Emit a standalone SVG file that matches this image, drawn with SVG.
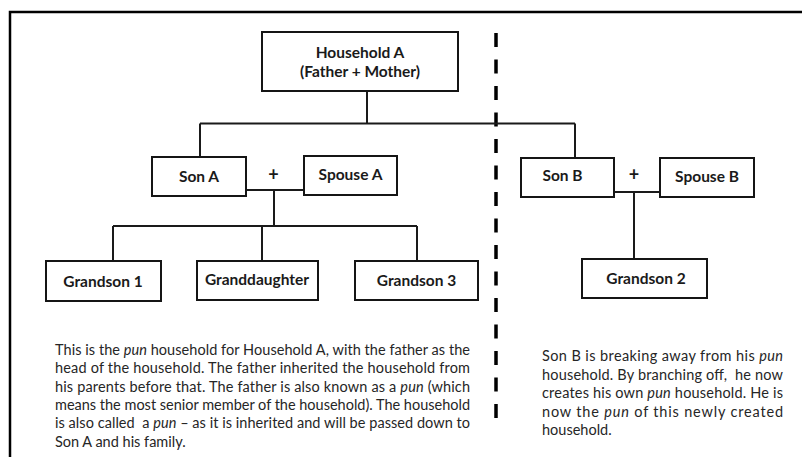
<svg xmlns="http://www.w3.org/2000/svg" width="802" height="457" viewBox="0 0 802 457">
<style>
.box{fill:#fff;stroke:#151515;stroke-width:2}
.lbl{font-family:Lato,"Liberation Sans",sans-serif;font-weight:bold;font-size:15.5px;fill:#1a1a1a;text-anchor:middle}
.plus{font-family:Lato,"Liberation Sans",sans-serif;font-weight:bold;font-size:18px;fill:#1a1a1a;text-anchor:middle}
.ln{fill:none;stroke:#1a1a1a;stroke-width:2}
.body{font-family:Lato,"Liberation Sans",sans-serif;font-size:14.5px;fill:#262626}
.it{font-style:italic}
.pre{white-space:pre}
</style>
<rect x="0" y="0" width="802" height="457" fill="#fff"/>
<path d="M10,457 V12 H802" fill="none" stroke="#000" stroke-width="2.5"/>
<line x1="496" y1="33" x2="496" y2="418" stroke="#000" stroke-width="3.5" stroke-dasharray="14 12.5"/>
<g id="connectors">
<path class="ln" d="M367,91 V123.5 M200,123.5 H575 M200,123.5 V157 M575,123.5 V158"/>
<path class="ln" d="M246,190 H304 M274,190 V226 M113,226 H417 M113,226 V261 M262,226 V261 M417,226 V261"/>
<path class="ln" d="M614,192 H660 M634,192 V259"/>
</g>
<g id="household-a">
<rect class="box" x="262" y="32" width="196" height="59"/>
<text class="lbl" x="360" y="58">Household A</text>
<text class="lbl" x="360" y="77">(Father + Mother)</text>
</g>
<g id="son-a">
<rect class="box" x="152" y="157" width="94" height="39"/>
<text class="lbl" x="199" y="181.5">Son A</text>
</g>
<text class="plus" x="273.5" y="181">+</text>
<g id="spouse-a">
<rect class="box" x="304" y="156" width="93" height="39"/>
<text class="lbl" x="350.5" y="179.5">Spouse A</text>
</g>
<g id="son-b">
<rect class="box" x="521" y="158" width="93" height="39"/>
<text class="lbl" x="562.5" y="180.5">Son B</text>
</g>
<text class="plus" x="634" y="181">+</text>
<g id="spouse-b">
<rect class="box" x="660" y="158" width="94" height="39"/>
<text class="lbl" x="707" y="181.5">Spouse B</text>
</g>
<g id="grandson-1">
<rect class="box" x="46" y="261" width="115" height="40"/>
<text class="lbl" x="103" y="286.5">Grandson 1</text>
</g>
<g id="granddaughter">
<rect class="box" x="197" y="261" width="121" height="39"/>
<text class="lbl" x="257" y="284.5">Granddaughter</text>
</g>
<g id="grandson-3">
<rect class="box" x="355" y="261" width="123" height="39"/>
<text class="lbl" x="416.5" y="285.5">Grandson 3</text>
</g>
<g id="grandson-2">
<rect class="box" x="582" y="259" width="125" height="39"/>
<text class="lbl" x="646" y="283.5">Grandson 2</text>
</g>
<g id="text-left" class="body">
<text x="55" y="355" textLength="415" lengthAdjust="spacing">This is the <tspan class="it">pun</tspan> household for Household A, with the father as the</text>
<text x="55" y="373.3" textLength="415" lengthAdjust="spacing">head of the household. The father inherited the household from</text>
<text x="55" y="391.6" textLength="415" lengthAdjust="spacing">his parents before that. The father is also known as a <tspan class="it">pun</tspan> (which</text>
<text x="55" y="409.9" textLength="415" lengthAdjust="spacing">means the most senior member of the household). The household</text>
<text class="pre" x="55" y="428.2" textLength="415" lengthAdjust="spacing">is also called  a <tspan class="it">pun</tspan> – as it is inherited and will be passed down to</text>
<text x="55" y="446.5">Son A and his family.</text>
</g>
<g id="text-right" class="body">
<text x="542" y="361" textLength="241" lengthAdjust="spacing">Son B is breaking away from his <tspan class="it">pun</tspan></text>
<text class="pre" x="542" y="379.5" textLength="241" lengthAdjust="spacing">household. By branching off,  he now</text>
<text x="542" y="398" textLength="241" lengthAdjust="spacing">creates his own <tspan class="it">pun</tspan> household. He is</text>
<text x="542" y="416.5" textLength="241" lengthAdjust="spacing">now the <tspan class="it">pun</tspan> of this newly created</text>
<text x="542" y="435">household.</text>
</g>
</svg>
